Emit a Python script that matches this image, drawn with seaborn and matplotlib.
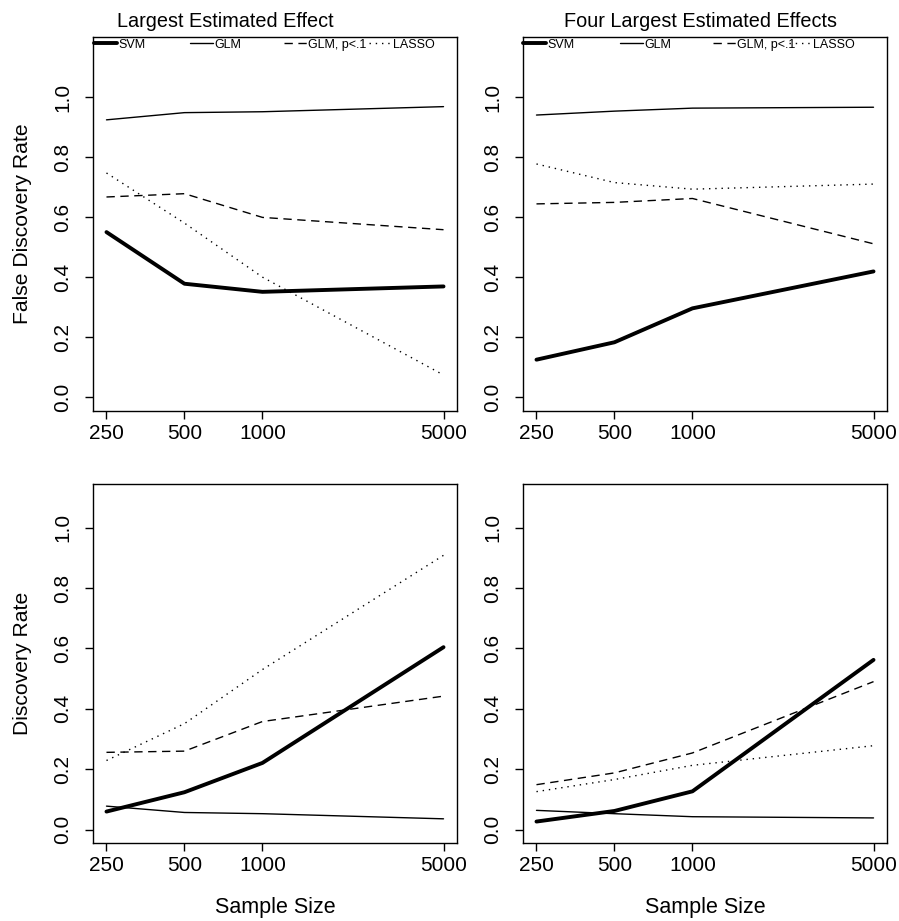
import matplotlib
matplotlib.use("Agg")
import matplotlib.pyplot as plt
import seaborn as sns
import pandas as pd
import math
from matplotlib.lines import Line2D
from matplotlib.legend import Legend
from matplotlib.ticker import NullLocator, FixedLocator

# ---------------- data ----------------
sample_sizes = [250, 500, 1000, 5000]
methods = ["SVM", "GLM", "GLM, p<.1", "LASSO"]

fdr_largest_svm = [0.550, 0.378, 0.351, 0.369]
fdr_largest_glm = [0.924, 0.948, 0.951, 0.968]
fdr_largest_glm_p = [0.667, 0.678, 0.599, 0.558]
fdr_largest_lasso = [0.747, 0.580, 0.400, 0.074]

fdr_four_svm = [0.125, 0.183, 0.296, 0.419]
fdr_four_glm = [0.940, 0.953, 0.963, 0.966]
fdr_four_glm_p = [0.644, 0.649, 0.662, 0.511]
fdr_four_lasso = [0.777, 0.715, 0.693, 0.710]

dr_largest_svm = [0.060, 0.124, 0.221, 0.604]
dr_largest_glm = [0.078, 0.057, 0.053, 0.036]
dr_largest_glm_p = [0.256, 0.260, 0.358, 0.442]
dr_largest_lasso = [0.229, 0.351, 0.530, 0.908]

dr_four_svm = [0.027, 0.062, 0.127, 0.562]
dr_four_glm = [0.064, 0.053, 0.043, 0.039]
dr_four_glm_p = [0.149, 0.188, 0.254, 0.490]
dr_four_lasso = [0.126, 0.166, 0.213, 0.278]

titles = ["Largest Estimated Effect", "Four Largest Estimated Effects"]
row_ylabels = ["False Discovery Rate", "Discovery Rate"]
xlabel = "Sample Size"
y_ticks = [0.0, 0.2, 0.4, 0.6, 0.8, 1.0]
y_tick_labels = ["0.0", "0.2", "0.4", "0.6", "0.8", "1.0"]
x_tick_labels = ["250", "500", "1000", "5000"]

# ---------------- style ----------------
sns.set_theme(style="ticks", rc={
    "axes.edgecolor": "black",
    "axes.linewidth": 1.0,
    "xtick.color": "black",
    "ytick.color": "black",
    "text.color": "black",
    "axes.labelcolor": "black",
})
plt.rcParams['font.family'] = ['Liberation Sans', 'DejaVu Sans']

lw_map = {"SVM": 2.8, "GLM": 1.0, "GLM, p<.1": 1.0, "LASSO": 1.0}
dash_map = {"SVM": "", "GLM": "", "GLM, p<.1": (6, 4), "LASSO": (1, 3.5)}
ls_map = {"SVM": "-", "GLM": "-", "GLM, p<.1": (0, (6, 4)), "LASSO": (0, (1, 3.5))}

panels = [
    (0, 0, [fdr_largest_svm, fdr_largest_glm, fdr_largest_glm_p, fdr_largest_lasso]),
    (0, 1, [fdr_four_svm, fdr_four_glm, fdr_four_glm_p, fdr_four_lasso]),
    (1, 0, [dr_largest_svm, dr_largest_glm, dr_largest_glm_p, dr_largest_lasso]),
    (1, 1, [dr_four_svm, dr_four_glm, dr_four_glm_p, dr_four_lasso]),
]

W, H = 899, 921
fig = plt.figure(figsize=(W / 100, H / 100), dpi=100)

col_left = [93, 523]
box_w = 364
row_top = [37, 484]
row_h = [374, 359]
row_ylim = [(-0.046, 1.2), (-0.044, 1.144)]

lo = math.log10(250)
hi = math.log10(5000)
pad = (hi - lo) * 0.04
xlim = (10 ** (lo - pad), 10 ** (hi + pad))

legend_x = [[0.003, 0.266, 0.525, 0.757], [0.0, 0.266, 0.522, 0.730]]
title_x = [(225 - 93) / 364, (701 - 523) / 364]

for r, c, series in panels:
    left = col_left[c] / W
    bottom = 1 - (row_top[r] + row_h[r]) / H
    ax = fig.add_axes([left, bottom, box_w / W, row_h[r] / H])
    ax.set_xscale("log")
    df = pd.DataFrame({
        "n": sample_sizes * 4,
        "rate": [v for s in series for v in s],
        "method": [m for m in methods for _ in sample_sizes],
    })
    sns.lineplot(data=df, x="n", y="rate", style="method", size="method",
                 style_order=methods, size_order=methods,
                 sizes=lw_map, dashes=dash_map, color="black",
                 legend=False, errorbar=None, ax=ax)
    ax.set_xlim(*xlim)
    ax.set_ylim(*row_ylim[r])
    ax.xaxis.set_major_locator(FixedLocator(sample_sizes))
    ax.xaxis.set_minor_locator(NullLocator())
    ax.set_xticklabels(x_tick_labels)
    ax.set_yticks(y_ticks)
    ax.set_yticklabels(y_tick_labels, rotation=90, va="center")
    ax.tick_params(axis="both", direction="out", length=6, width=1.0,
                   labelsize=15)
    ax.tick_params(axis="x", pad=3)
    ax.tick_params(axis="y", pad=9)
    for sp in ax.spines.values():
        sp.set_visible(True)
        sp.set_linewidth(1.0)
        sp.set_color("black")
    if c == 0:
        ax.set_ylabel(row_ylabels[r], fontsize=15.2, labelpad=15)
    else:
        ax.set_ylabel("")
    if r == 1:
        ax.set_xlabel(xlabel, fontsize=15.5, labelpad=16)
    else:
        ax.set_xlabel("")
    if r == 0:
        t = ax.set_title(titles[c], fontsize=14.3, pad=7)
        t.set_x(title_x[c])
        for i, m in enumerate(methods):
            h = Line2D([], [], color="black", lw=lw_map[m], ls=ls_map[m])
            leg = Legend(ax, [h], [m], loc="upper left",
                         bbox_to_anchor=(legend_x[c][i], 0.995),
                         frameon=False, fontsize=9, handlelength=1.85,
                         handletextpad=0.1, borderpad=0, borderaxespad=0)
            ax.add_artist(leg)

fig.savefig("out.png", dpi=100)
